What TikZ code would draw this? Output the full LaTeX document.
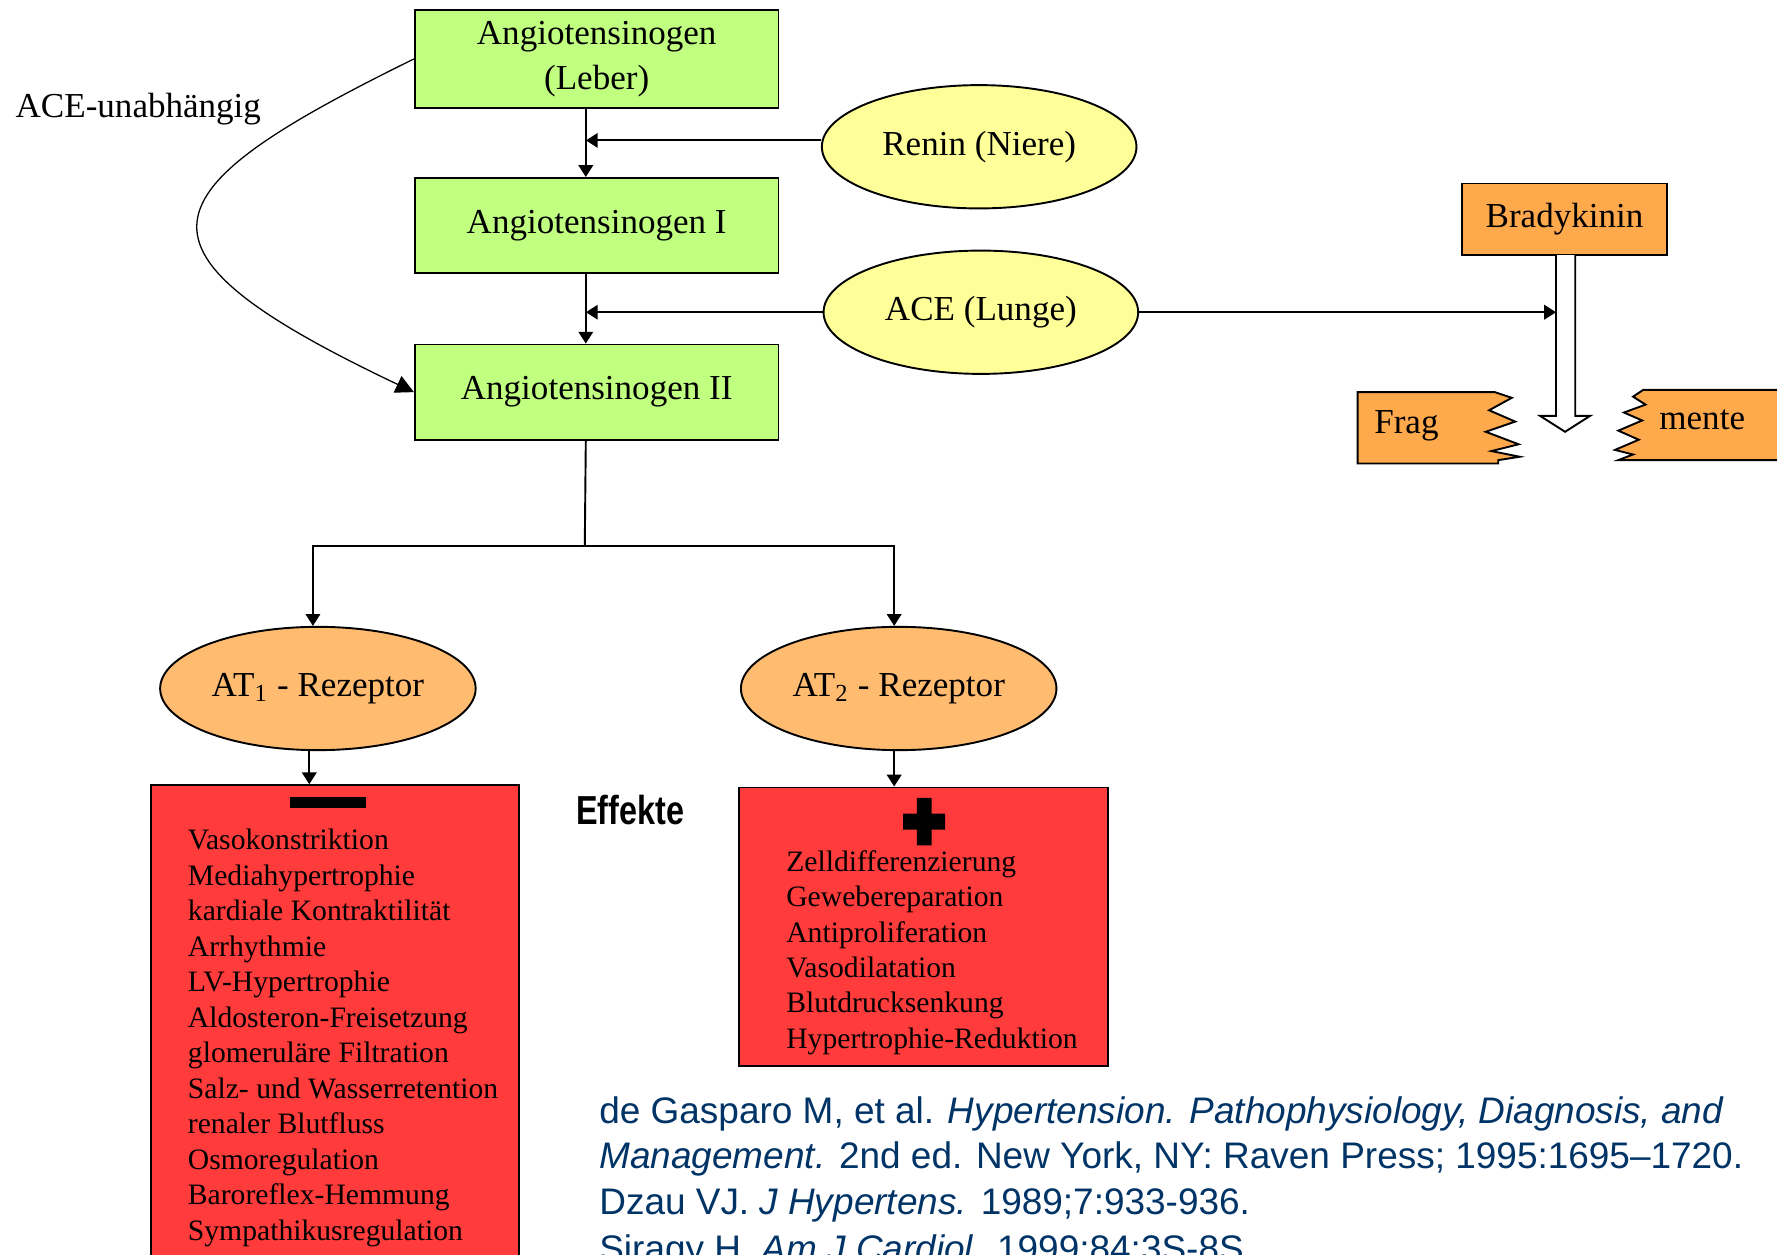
\documentclass[tikz,border=0pt]{standalone}
\usepackage{fontspec}
\setmainfont{Liberation Serif}
\newfontfamily\refsans{Liberation Sans}
\usetikzlibrary{arrows.meta,shapes.geometric}
\definecolor{boxgreen}{RGB}{192,255,128}
\definecolor{ellyellow}{RGB}{255,255,153}
\definecolor{brorange}{RGB}{255,169,77}
\definecolor{atorange}{RGB}{255,187,112}
\definecolor{effred}{RGB}{255,59,59}
\definecolor{refblue}{RGB}{0,51,102}
\begin{document}
\begin{tikzpicture}[x=.125mm,y=-.125mm,line width=.6pt,
    >={Triangle[width=1.6mm,length=1.3mm]},
    stage/.style={draw,fill=boxgreen,minimum width=40.1mm,minimum height=10.5mm,
      align=center,font=\fontsize{11}{14.2}\selectfont},
    enzyme/.style={draw,ellipse,inner sep=0pt,fill=ellyellow,minimum width=34.7mm,
      minimum height=13.6mm,font=\fontsize{11}{13}\selectfont},
    receptor/.style={draw,ellipse,inner sep=0pt,fill=atorange,minimum width=34.8mm,
      minimum height=13.6mm,font=\fontsize{11}{13}\selectfont},
    effbox/.style={draw,fill=effred,anchor=north},
    item/.style={anchor=base west,inner sep=0pt,font=\fontsize{9.3}{11}\selectfont},
    refline/.style={anchor=base west,inner sep=0pt,text=refblue,
      font=\refsans\fontsize{11.6}{14}\selectfont}]
      \useasboundingbox (0,0) rectangle (1568,1107);
      \clip (0,0) rectangle (1568,1107);
      % cascade
      \node[stage,minimum height=10.75mm] (leber) at (526.5,52) {Angiotensinogen\\(Leber)};
      \node[stage] (ang1) at (526.5,199) {Angiotensinogen I};
      \node[stage] (ang2) at (526.5,346) {Angiotensinogen II};
      \node[enzyme] (renin) at (864,129.5) {Renin (Niere)};
      \node[enzyme] (ace) at (865.5,275.5) {ACE (Lunge)};
      \node[anchor=west,inner sep=0pt,font=\fontsize{11}{13}\selectfont] (aceunab) at (13,96) {ACE-unabhängig};
      \coordinate (axis) at (517,0);
      \draw[->]([xshift=-1.2mm]leber.south)--([xshift=-1.2mm]ang1.north);
      \draw[->]([xshift=-1.2mm]ang1.south)--([xshift=-1.2mm]ang2.north);
      \draw[->]([yshift=.7mm]renin.west)--([yshift=.7mm]renin.west -| axis);
      \draw[->](ace.west)--(ace.west -| axis);
      \draw[line width=.4pt,-{Triangle[width=2mm,length=2mm]}]
           (leber.west) .. controls (125,170) and (100,220) .. (ang2.west);
      % bradykinin
      \node[draw,fill=brorange,minimum width=22.6mm,minimum height=7.9mm,
            font=\fontsize{11}{13}\selectfont] (brady) at (1380.5,193.5) {Bradykinin};
      \coordinate (shaft) at (1373,225);
      \draw[fill=white](1373,225)--(1373,367)--(1359,367)--(1381,381)--(1403,367)--(1390,367)--(1390,225);
      \draw[->](ace.east)--(ace.east -| shaft);
      \draw[fill=brorange](1198,346)--(1319,346)--(1334,351)--(1314,362)--(1337,372)--(1311,381)
           --(1340,392)--(1316,398)--(1341,403)--(1322,406)--(1322,409)--(1198,409)--cycle;
      \draw[fill=brorange](1580,344)--(1450,344)--(1441,350)--(1452,357)--(1433,364)--(1449,371)
           --(1428,380)--(1446,388)--(1425,397)--(1441,401)--(1428,406)--(1580,406)--cycle;
      \node[font=\fontsize{11}{13}\selectfont] (frag) at (1241,376) {Frag};
      \node[font=\fontsize{11}{13}\selectfont] (mente) at (1502,370) {mente};
      % receptors
      \node[receptor] (atone) at (280.5,607.5) {AT\textsubscript{1} - Rezeptor};
      \node[receptor] (attwo) at (793,607.5) {AT\textsubscript{2} - Rezeptor};
      \coordinate (fork) at (516,482);
      \draw([xshift=-1.2mm]ang2.south)--(fork);
      \draw[->](fork)-|([xshift=-.55mm]atone.north);
      \draw[->](fork)-|([xshift=-.5mm]attwo.north);
      % effects
      \node[effbox,minimum width=40.6mm,minimum height=55mm] (effneg) at (295.5,692) {};
      \node[effbox,minimum width=40.75mm,minimum height=30.75mm] (effpos) at (815,694) {};
      \draw[->]([xshift=-.95mm]atone.south)--([xshift=-.95mm]atone.south |- effneg.north);
      \draw[->]([xshift=-.5mm]attwo.south)--([xshift=-.5mm]attwo.south |- effpos.north);
      \fill(256,703)rectangle(323,713);
      \fill(797,718)rectangle(834,732)
           (809,704)rectangle(822,746);
      \foreach \t [count=\i from 0] in {Vasokonstriktion,Mediahypertrophie,
          kardiale Kontraktilität,Arrhythmie,LV-Hypertrophie,Aldosteron-Freisetzung,
          glomeruläre Filtration,Salz- und Wasserretention,renaler Blutfluss,
          Osmoregulation,Baroreflex-Hemmung,Sympathikusregulation}{%
        \node[item] (neg\i) at (165,{750+31.3*\i}) {\t};
      }
      \foreach \t [count=\i from 0] in {Zelldifferenzierung,Gewebereparation,
          Antiproliferation,Vasodilatation,Blutdrucksenkung,Hypertrophie-Reduktion}{%
        \node[item] (pos\i) at (693,{769+31.2*\i}) {\t};
      }
      \node[font=\refsans\bfseries\fontsize{12.7}{14}\selectfont] (effekte) at (556,715)
           {\scalebox{.8}[1]{Effekte}};
      % references
      \node[refline] (ref1) at (528,991) {de Gasparo M, et al. \textit{Hypertension. Pathophysiology, Diagnosis, and}};
      \node[refline] (ref2) at (528,1031) {\textit{Management.} 2nd ed. New York, NY: Raven Press; 1995:1695–1720.};
      \node[refline] (ref3) at (528,1072) {Dzau VJ. \textit{J Hypertens.} 1989;7:933-936.};
      \node[refline] (ref4) at (528,1113) {Siragy H. \textit{Am J Cardiol.} 1999;84:3S-8S.};
    \end{tikzpicture}
\end{document}
